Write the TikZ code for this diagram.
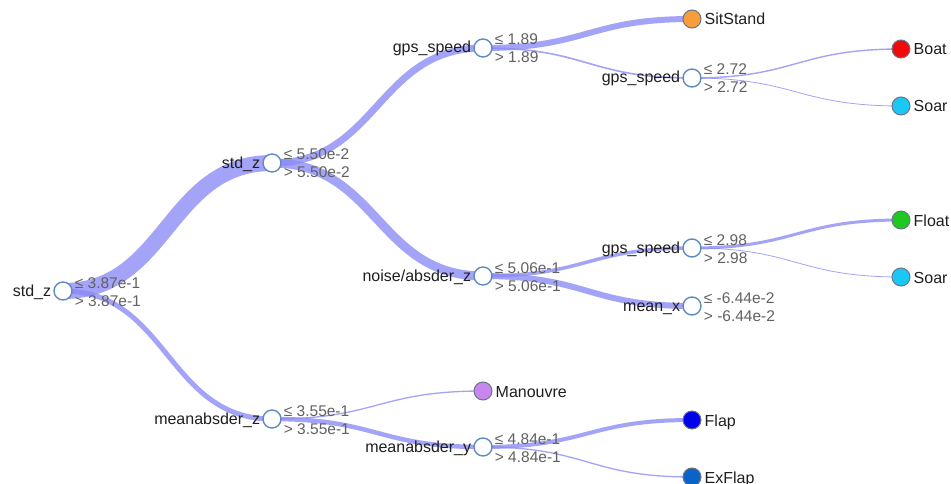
\documentclass[tikz,border=0pt]{standalone}
\usepackage{fontspec}
\setmainfont{Liberation Sans}
\usetikzlibrary{calc}

\definecolor{linkc}{RGB}{138,138,245}
\definecolor{ringc}{RGB}{95,140,190}
\definecolor{leafring}{RGB}{110,115,140}
\definecolor{csitstand}{RGB}{247,158,58}
\definecolor{cboat}{RGB}{240,10,10}
\definecolor{csoar}{RGB}{25,200,245}
\definecolor{cfloat}{RGB}{30,200,30}
\definecolor{cmanouvre}{RGB}{200,135,238}
\definecolor{cflap}{RGB}{0,0,235}
\definecolor{cexflap}{RGB}{10,100,200}

\pgfdeclarelayer{paper}
\pgfdeclarelayer{links}
\pgfsetlayers{paper,links,main}

\tikzset{
  split/.style={circle, draw=ringc, line width=1.4pt, fill=white,
                minimum size=18pt, inner sep=0pt},
  leaf/.style={circle, draw=leafring, line width=1pt, fill=#1,
               minimum size=18pt, inner sep=0pt},
  featlbl/.style={font=\fontsize{16}{18}\selectfont, text=black!88,
                  inner sep=0pt, anchor=base east},
  thrlbl/.style={font=\fontsize{15.5}{18}\selectfont, text=black!62,
                 inner sep=0pt, anchor=base west},
  classlbl/.style={font=\fontsize{16}{18}\selectfont, text=black!88,
                   inner sep=0pt, anchor=base west},
  branch/.style={draw=linkc, draw opacity=0.78, line cap=butt}
}

% internal split: name, x, y, feature, threshold
\newcommand\splitat[5]{%
  \node[split] (#1) at (#2,#3) {};
  \node[featlbl] (#1-name) at ([xshift=-2pt,yshift=-5pt]#1.west) {#4};
  \node[thrlbl] (#1-le) at ([xshift=2pt,yshift=3pt]#1.east) {≤ #5};
  \node[thrlbl] (#1-gt) at ([xshift=2pt,yshift=-15pt]#1.east) {> #5};
}
% leaf: name, x, y, fill colour, class
\newcommand\leafat[5]{%
  \node[leaf=#4] (#1) at (#2,#3) {};
  \node[classlbl] (#1-name) at ([xshift=3pt,yshift=-6pt]#1.east) {#5};
}
% horizontal diagonal link between two node centres
\newcommand\branchlink[3]{%
  \draw[branch, line width=#3pt] let \p1=(#1.center), \p2=(#2.center) in
    (\p1) .. controls ({(\x1+\x2)/2},\y1) and ({(\x1+\x2)/2},\y2) .. (\p2);
}

\begin{document}
\begin{tikzpicture}[x=1pt, y=-1pt]
  \begin{pgfonlayer}{paper}
    \fill[white] (0,0) rectangle (951,484);
  \end{pgfonlayer}
  \useasboundingbox (0,0) rectangle (951,484);

  % splits
  \splitat{root}{63}{291}{std\_z}{3.87e-1}
  \splitat{stdz}{272}{163}{std\_z}{5.50e-2}
  \splitat{madz}{272}{419}{meanabsder\_z}{3.55e-1}
  \splitat{gpsa}{483}{48}{gps\_speed}{1.89}
  \splitat{noise}{483}{276}{noise/absder\_z}{5.06e-1}
  \splitat{mady}{483}{447}{meanabsder\_y}{4.84e-1}
  \splitat{gpsb}{692}{78}{gps\_speed}{2.72}
  \splitat{gpsc}{692}{248}{gps\_speed}{2.98}
  \splitat{meanx}{692}{306}{mean\_x}{-6.44e-2}

  % leaves
  \leafat{sitstand}{692}{19}{csitstand}{SitStand}
  \leafat{manouvre}{483}{391}{cmanouvre}{Manouvre}
  \leafat{flap}{692}{420}{cflap}{Flap}
  \leafat{exflap}{692}{477}{cexflap}{ExFlap}
  \leafat{boat}{901}{49}{cboat}{Boat}
  \leafat{soara}{901}{106}{csoar}{Soar}
  \leafat{float}{901}{220}{cfloat}{Float}
  \leafat{soarb}{901}{277}{csoar}{Soar}

  \begin{pgfonlayer}{links}
    \branchlink{root}{stdz}{16}
    \branchlink{root}{madz}{5}
    \branchlink{stdz}{gpsa}{7}
    \branchlink{stdz}{noise}{9}
    \branchlink{gpsa}{sitstand}{6}
    \branchlink{gpsa}{gpsb}{1.6}
    \branchlink{gpsb}{boat}{1.4}
    \branchlink{gpsb}{soara}{0.8}
    \branchlink{noise}{gpsc}{3.5}
    \branchlink{noise}{meanx}{6}
    \branchlink{gpsc}{float}{3}
    \branchlink{gpsc}{soarb}{0.8}
    \branchlink{madz}{manouvre}{1.3}
    \branchlink{madz}{mady}{4.5}
    \branchlink{mady}{flap}{4}
    \branchlink{mady}{exflap}{1.3}
  \end{pgfonlayer}
\end{tikzpicture}
\end{document}
